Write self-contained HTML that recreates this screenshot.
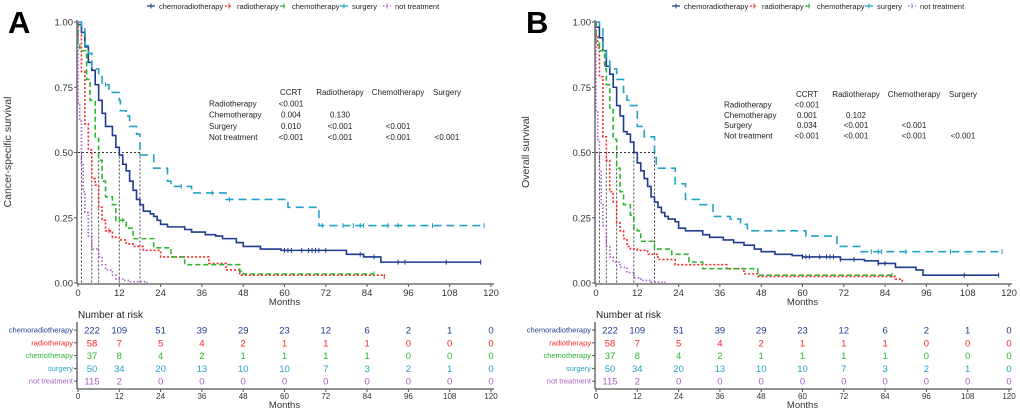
<!DOCTYPE html>
<html><head><meta charset="utf-8"><style>
html,body{margin:0;padding:0;background:#fff;width:1020px;height:411px;overflow:hidden}
svg{display:block;font-family:"Liberation Sans",sans-serif}
</style></head><body>
<svg id="fig" width="1020" height="411" viewBox="0 0 1020 411" xmlns="http://www.w3.org/2000/svg"></svg>
<script>
// ---- Data ----
const groups = ["chemoradiotherapy","radiotherapy","chemotherapy","surgery","not treatment"];
const riskTimes = [0,12,24,36,48,60,72,84,96,108,120];
const xTicks = [0,12,24,36,48,60,72,84,96,108,120];
const yTicks = [0,0.25,0.5,0.75,1.0];
const yTickLabels = ["0.00","0.25","0.50","0.75","1.00"];
const riskCCRT = [222,109,51,39,29,23,12,6,2,1,0];
const riskRadio = [58,7,5,4,2,1,1,1,0,0,0];
const riskChemo = [37,8,4,2,1,1,1,1,0,0,0];
const riskSurg = [50,34,20,13,10,10,7,3,2,1,0];
const riskNT = [115,2,0,0,0,0,0,0,0,0,0];

const A_ccrt = [[0,0.99],[1,0.96],[2,0.905],[3,0.845],[4,0.815],[5,0.76],[6,0.70],[7,0.65],[8,0.60],[10,0.565],[11,0.52],[12,0.49],[13,0.455],[14,0.43],[15,0.39],[16,0.355],[17,0.32],[18,0.30],[19,0.275],[21,0.265],[22,0.255],[23,0.24],[24,0.225],[26,0.215],[31,0.205],[33,0.195],[37,0.185],[40,0.18],[42,0.17],[46,0.155],[48,0.14],[53,0.13],[59,0.125],[78,0.11],[83,0.10],[88,0.08],[117,0.08]];
const A_radio = [[0,0.95],[1,0.81],[2,0.61],[3,0.51],[4,0.40],[5,0.375],[6,0.29],[7,0.24],[8,0.20],[10,0.175],[12,0.165],[14,0.15],[16,0.14],[19,0.125],[24,0.10],[38,0.075],[43,0.05],[47,0.03],[89,0.025]];
const A_chemo = [[0,0.92],[0.5,0.89],[2.5,0.78],[3.5,0.70],[5,0.56],[6,0.47],[7,0.39],[8,0.33],[10,0.30],[11,0.24],[14,0.21],[16,0.17],[22,0.135],[27,0.10],[31,0.07],[47,0.045],[48,0.035],[86,0.035]];
const A_surg = [[0,1.0],[1,0.98],[2,0.91],[3,0.88],[4,0.82],[6,0.79],[7,0.76],[9,0.73],[12,0.70],[12.3,0.66],[14,0.64],[15,0.60],[17,0.57],[18,0.49],[22,0.44],[26,0.39],[27,0.37],[33,0.345],[43,0.32],[61,0.29],[70,0.22],[118,0.22]];
const A_nt = [[0,0.69],[0.5,0.62],[1,0.46],[1.5,0.35],[2,0.27],[3,0.18],[4,0.13],[6,0.10],[7,0.07],[8,0.05],[10,0.03],[11,0.015],[13,0.01],[15,0.005],[20,0.0]];
const A_medians = [1,4,6,12,18];
const A_censors = [[60,61,62,65,67,68,69,70,72,82,86,93,95,107,117],[9,89],[12,13,86],[8,30,39,44,71,77,80,82,83,90,93,103,118],[]];

const B_ccrt = [[0,0.98],[1,0.94],[2,0.89],[3,0.83],[4,0.80],[5,0.75],[6,0.68],[7,0.64],[8,0.58],[9,0.57],[10,0.54],[11,0.50],[12,0.46],[13,0.43],[14,0.40],[15,0.37],[16,0.33],[17,0.31],[18,0.29],[19,0.27],[20,0.255],[21,0.245],[23,0.235],[24,0.21],[26,0.20],[31,0.185],[33,0.175],[37,0.165],[40,0.155],[43,0.145],[46,0.13],[48,0.12],[52,0.11],[57,0.105],[60,0.10],[71,0.09],[78,0.085],[82,0.075],[87,0.06],[93,0.05],[95,0.03],[117,0.03]];
const B_radio = [[0,0.95],[0.5,0.90],[1,0.79],[2,0.56],[3,0.47],[4,0.35],[5,0.31],[6,0.23],[7,0.20],[8,0.17],[9,0.14],[10,0.13],[12,0.125],[15,0.11],[18,0.09],[23,0.07],[38,0.055],[43,0.035],[47,0.025],[87,0.015],[89,0.0]];
const B_chemo = [[0,0.92],[1,0.89],[2.5,0.82],[3,0.76],[4,0.67],[5,0.55],[6,0.44],[7,0.35],[8,0.30],[10,0.26],[11,0.21],[12,0.20],[13,0.16],[17,0.13],[22,0.11],[27,0.08],[31,0.055],[47,0.03],[86,0.03]];
const B_surg = [[0,1.0],[1,0.98],[2,0.89],[3,0.85],[4,0.82],[6,0.78],[8,0.73],[9,0.70],[10,0.68],[12,0.60],[14,0.56],[17,0.50],[17.5,0.44],[23,0.38],[26,0.32],[30,0.30],[34,0.255],[39,0.245],[42,0.225],[44,0.20],[61,0.18],[70,0.14],[77,0.12],[118,0.12]];
const B_nt = [[0,0.66],[0.5,0.55],[1,0.43],[1.5,0.30],[2,0.22],[3,0.14],[4,0.10],[5,0.08],[7,0.06],[9,0.04],[11,0.02],[13,0.01],[16,0.003],[20,0.0]];
const B_medians = [1,3,6,11,17];
const B_censors = [[60,61,62,65,67,68,69,71,75,82,84,107,117],[],[86],[80,82,83,90,103,118],[]];

const pHeaders = ["CCRT","Radiotherapy","Chemotherapy","Surgery"];
const pRows = ["Radiotherapy","Chemotherapy","Surgery","Not treatment"];
const A_p = [["<0.001"],["0.004","0.130"],["0.010","<0.001","<0.001"],["<0.001","<0.001","<0.001","<0.001"]];
const B_p = [["<0.001"],["0.001","0.102"],["0.034","<0.001","<0.001"],["<0.001","<0.001","<0.001","<0.001"]];

// ---- Drawing ----
const colors = ["#1f3d8f","#f52828","#2fb52f","#22a2c6","#a65cc4"];
const dashes = ["","2,2","5,3","8,5","1.5,2"];
const legendX = [147,225,280,340,383];
const NS = "http://www.w3.org/2000/svg";
const svg = document.getElementById('fig');
function mk(tag, attrs, parent, text){
  const e = document.createElementNS(NS, tag);
  for (const k in attrs) e.setAttribute(k, attrs[k]);
  if (text !== undefined) e.textContent = text;
  (parent||svg).appendChild(e); return e;
}

function panel(off, letter, ytitle, series, medians, censors, pvals, pPos, legOff){
  const g = mk('g', {});
  
  
  const x0 = 78 + off, x1 = 491 + off, yTop = 22, yBot = 283;
  const X = t => x0 + (t/120)*(x1-x0);
  const Y = s => yBot - s*(yBot-yTop);

  const L = mk('text', {x: 8+off, y: 33, 'font-size': 31, 'font-weight': 'bold'}, g, letter);
  
  

  // legend
  const lg = mk('g', {}, g);
  
  
  groups.forEach((gr,i)=>{
    const lx = legendX[i] + off + legOff;
    const e = mk('g', {}, lg);
    
    
    mk('line', {x1: lx, y1: 6, x2: lx+8, y2: 6, stroke: colors[i], 'stroke-width': 1.3, 'stroke-dasharray': dashes[i]}, e);
    mk('line', {x1: lx+4, y1: 3.5, x2: lx+4, y2: 8.5, stroke: colors[i], 'stroke-width': 1}, e);
    mk('text', {x: lx+12, y: 9, 'font-size': 7.5, fill: '#222'}, e, gr);
  });

  // axes
  mk('line', {x1: x0-1, y1: yTop-2, x2: x0-1, y2: yBot+1, stroke: '#555', 'stroke-width': 1.3}, g);
  mk('line', {x1: x0-1, y1: yBot+1, x2: x1+3, y2: yBot+1, stroke: '#555', 'stroke-width': 1.3}, g);
  yTicks.forEach((v,i)=>{
    mk('line', {x1: x0-4, y1: Y(v), x2: x0-1, y2: Y(v), stroke: '#555'}, g);
    const t = mk('text', {x: x0-5, y: Y(v)+3.5, 'font-size': 9.5, 'text-anchor': 'end', fill: '#333'}, g, yTickLabels[i]);
    
    
  });
  xTicks.forEach(v=>{
    mk('line', {x1: X(v), y1: yBot+1, x2: X(v), y2: yBot+4, stroke: '#555'}, g);
    const t = mk('text', {x: X(v), y: yBot+13, 'font-size': 9.5, 'text-anchor': 'middle', fill: '#333'}, g, v);
    
    
  });
  const xt = mk('text', {x: (x0+x1)/2, y: yBot+22, 'font-size': 9.5, 'text-anchor': 'middle', fill: '#333'}, g, 'Months');
  
  
  const ytx = off ? 529 : 11;
  const yt = mk('text', {x: ytx, y: 152, 'font-size': 10.5, 'text-anchor': 'middle', fill: '#333', transform: `rotate(-90 ${ytx} 152)`}, g, ytitle);
  
  

  // median lines
  const mmax = Math.max(...medians);
  mk('line', {x1: X(0), y1: Y(0.5), x2: X(mmax), y2: Y(0.5), stroke: '#333', 'stroke-width': 0.9, 'stroke-dasharray': '2,2'}, g);
  medians.forEach(m=>{
    const ml = mk('line', {x1: X(m), y1: Y(0.5), x2: X(m), y2: Y(0), stroke: '#333', 'stroke-width': 0.9, 'stroke-dasharray': '2,2'}, g);
    
    
  });

  // curves
  series.forEach((pts,i)=>{
    let d = `M${X(pts[0][0])},${Y(1)}L${X(pts[0][0])},${Y(pts[0][1])}`;
    for (let k=1;k<pts.length;k++){
      d += `L${X(pts[k][0])},${Y(pts[k-1][1])}L${X(pts[k][0])},${Y(pts[k][1])}`;
    }
    const p = mk('path', {d, fill: 'none', stroke: colors[i], 'stroke-width': 1.6, 'stroke-dasharray': dashes[i]}, g);
    
    
    censors[i].forEach(c=>{
      let s = pts[0][1];
      for (const q of pts) if (q[0] <= c) s = q[1];
      const cm = mk('line', {x1: X(c), y1: Y(s)-2.5, x2: X(c), y2: Y(s)+2.5, stroke: colors[i], 'stroke-width': 1}, g);
      
      
    });
  });

  // p-value table
  const pt = mk('g', {}, g);
  
  
  const [lxp, hy, cols, dy] = pPos;
  pHeaders.forEach((h,j)=> mk('text', {x: cols[j], y: hy, 'font-size': 8, 'text-anchor': 'middle', fill: '#222'}, pt, h));
  pRows.forEach((r,i)=>{
    const ry = hy + dy*(i+1);
    mk('text', {x: lxp, y: ry, 'font-size': 8, fill: '#222'}, pt, r);
    pvals[i].forEach((v,j)=> mk('text', {x: cols[j], y: ry, 'font-size': 8, 'text-anchor': 'middle', fill: '#222'}, pt, v));
  });

  // risk table
  const rt = mk('g', {}, g);
  
  
  mk('text', {x: x0, y: 318, 'font-size': 10, fill: '#222'}, rt, 'Number at risk');
  const rTop = 322, rBot = 389;
  mk('line', {x1: x0-1, y1: rTop, x2: x0-1, y2: rBot, stroke: '#555', 'stroke-width': 1.3}, rt);
  mk('line', {x1: x0-1, y1: rBot, x2: x1+3, y2: rBot, stroke: '#555', 'stroke-width': 1.3}, rt);
  const risks = [riskCCRT, riskRadio, riskChemo, riskSurg, riskNT];
  risks.forEach((arr,i)=>{
    const ry = 330 + i*12.8;
    mk('line', {x1: x0-4, y1: ry, x2: x0-1, y2: ry, stroke: '#555'}, rt);
    mk('text', {x: x0-5, y: ry+2.5, 'font-size': 7.5, 'text-anchor': 'end', fill: colors[i]}, rt, groups[i]);
    arr.forEach((n,k)=>{
      const t = mk('text', {x: X(riskTimes[k]) + (k===0 ? 14 : 0), y: ry+3.5, 'font-size': 9.5, 'text-anchor': 'middle', fill: colors[i]}, rt, n);
      
      
    });
  });
  xTicks.forEach(v=>{
    mk('line', {x1: X(v), y1: rBot, x2: X(v), y2: rBot+3, stroke: '#555'}, rt);
    mk('text', {x: X(v), y: rBot+10, 'font-size': 8, 'text-anchor': 'middle', fill: '#333'}, rt, v);
  });
  mk('text', {x: (x0+x1)/2, y: 408, 'font-size': 9.5, 'text-anchor': 'middle', fill: '#333'}, rt, 'Months');
}

panel(0, 'A', 'Cancer-specific survival', [A_ccrt,A_radio,A_chemo,A_surg,A_nt], A_medians, A_censors, A_p,
  [209, 95, [291,340,398,447], 11.3], 0);
panel(518, 'B', 'Overall survival', [B_ccrt,B_radio,B_chemo,B_surg,B_nt], B_medians, B_censors, B_p,
  [724, 97, [807,856,914,963], 10.4], 7);
</script>
</body></html>
